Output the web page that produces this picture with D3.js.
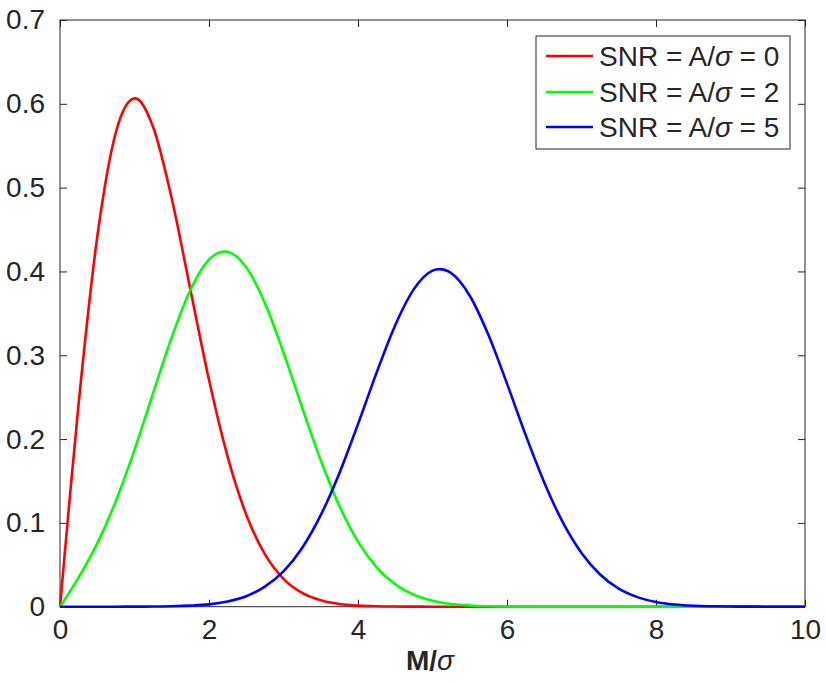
<!DOCTYPE html>
<html><head><meta charset="utf-8">
<script src="https://cdn.jsdelivr.net/npm/d3@7"></script>
<style>body{margin:0;background:#fff}svg{display:block}text{font-family:"Liberation Sans",Arial,sans-serif;fill:#262626}</style>
</head><body>
<svg id="c" width="826" height="683"></svg>
<script>
const xValues = [0,0.25,0.5,0.75,1,1.25,1.5,1.75,2,2.25,2.5,2.75,3,3.25,3.5,3.75,4,4.25,4.5,4.75,5,5.25,5.5,5.75,6,6.25,6.5,6.75,7,7.25,7.5,7.75,8,8.25,8.5,8.75,9,9.25,9.5,9.75,10];
const snr0 = [0,0.2423,0.4412,0.5661,0.6065,0.5723,0.4870,0.3785,0.2707,0.1791,0.1098,0.0627,0.0333,0.0165,0.0077,0.0033,0.0013,0.0005,0.0002,0.0001,0,0,0,0,0,0,0,0,0,0,0,0,0,0,0,0,0,0,0,0,0];
const snr2 = [0,0.0349,0.0756,0.1262,0.1871,0.2548,0.3217,0.3779,0.4140,0.4235,0.4049,0.3622,0.3033,0.2377,0.1747,0.1203,0.0776,0.0470,0.0267,0.0142,0.0071,0.0033,0.0015,0.0006,0.0002,0.0001,0,0,0,0,0,0,0,0,0,0,0,0,0,0,0];
const snr5 = [0,0,0,0.00002,0.00006,0.0002,0.0005,0.0013,0.0028,0.0063,0.0125,0.0240,0.0422,0.0701,0.1092,0.1593,0.2178,0.2793,0.3359,0.3789,0.4010,0.3981,0.3710,0.3244,0.2662,0.2050,0.1483,0.1006,0.0641,0.0384,0.0215,0.0114,0.0056,0.0026,0.0011,0.0005,0.0002,0.0001,0,0,0];
const seriesNames = ["SNR = A/\u03c3 = 0","SNR = A/\u03c3 = 2","SNR = A/\u03c3 = 5"];
const seriesColors = ["#ff0000","#00ff00","#0000ff"];
const xTicks = [0,2,4,6,8,10];
const yTicks = [0,0.1,0.2,0.3,0.4,0.5,0.6,0.7];

const svg = d3.select("#c");
const L=60,R=805,T=20,B=606.7;
const x = d3.scaleLinear().domain([0,10]).range([L,R]);
const y = d3.scaleLinear().domain([0,0.7]).range([B,T]);
const axisCol="#262626", fs=28, tk=7;

svg.append("rect").attr("x",L).attr("y",T).attr("width",R-L).attr("height",B-T)
  .attr("fill","none").attr("stroke",axisCol).attr("stroke-width",1);

const gx = svg.append("g").attr("transform",`translate(0,${B})`)
  .call(d3.axisBottom(x).tickValues(xTicks).tickSizeInner(-tk).tickSizeOuter(0).tickPadding(12).tickFormat(d3.format("d")));
const gxt = svg.append("g").attr("transform",`translate(0,${T})`)
  .call(d3.axisTop(x).tickValues(xTicks).tickSizeInner(-tk).tickSizeOuter(0).tickFormat(""));
const gy = svg.append("g").attr("transform",`translate(${L},0)`)
  .call(d3.axisLeft(y).tickValues(yTicks).tickSizeInner(-tk).tickSizeOuter(0).tickPadding(15).tickFormat(d=>d===0?"0":d3.format(".1f")(d)));
const gyr = svg.append("g").attr("transform",`translate(${R},0)`)
  .call(d3.axisRight(y).tickValues(yTicks).tickSizeInner(-tk).tickSizeOuter(0).tickFormat(""));
[gx,gxt,gy,gyr].forEach(g=>{
  g.select(".domain").remove();
  g.selectAll("line").attr("stroke",axisCol);
  g.selectAll("text").attr("font-size",fs).attr("fill",axisCol).attr("font-family","Liberation Sans, Arial, sans-serif");
});

const all=[snr0,snr2,snr5];
const line = d3.line().x((d,i)=>x(xValues[i])).y(d=>y(Math.max(0,d))).curve(d3.curveCardinal.tension(0));
all.forEach((s,k)=>{
  svg.append("path").datum(s).attr("d",line).attr("fill","none")
    .attr("stroke",seriesColors[k]).attr("stroke-width",2.6).attr("stroke-linejoin","round");
});

const xl = svg.append("text").attr("x",430).attr("y",670).attr("text-anchor","middle").attr("font-size",fs);
xl.append("tspan").attr("font-weight","bold").text("M/");
xl.append("tspan").attr("font-style","italic").text("\u03c3");

const lg = svg.append("g");
lg.append("rect").attr("x",536).attr("y",36).attr("width",254).attr("height",113)
  .attr("fill","#fff").attr("stroke",axisCol).attr("stroke-width",1);
const rowsY=[56,92,127];
seriesNames.forEach((n,k)=>{
  lg.append("line").attr("x1",546).attr("x2",593).attr("y1",rowsY[k]).attr("y2",rowsY[k])
    .attr("stroke",seriesColors[k]).attr("stroke-width",2.6);
  const t = lg.append("text").attr("x",599).attr("y",rowsY[k]).attr("dy","0.36em").attr("font-size",fs).attr("fill","#000");
  const parts = n.split("\u03c3");
  t.append("tspan").text(parts[0]);
  t.append("tspan").attr("font-style","italic").text("\u03c3");
  t.append("tspan").text(parts[1]);
});
</script>
</body></html>
